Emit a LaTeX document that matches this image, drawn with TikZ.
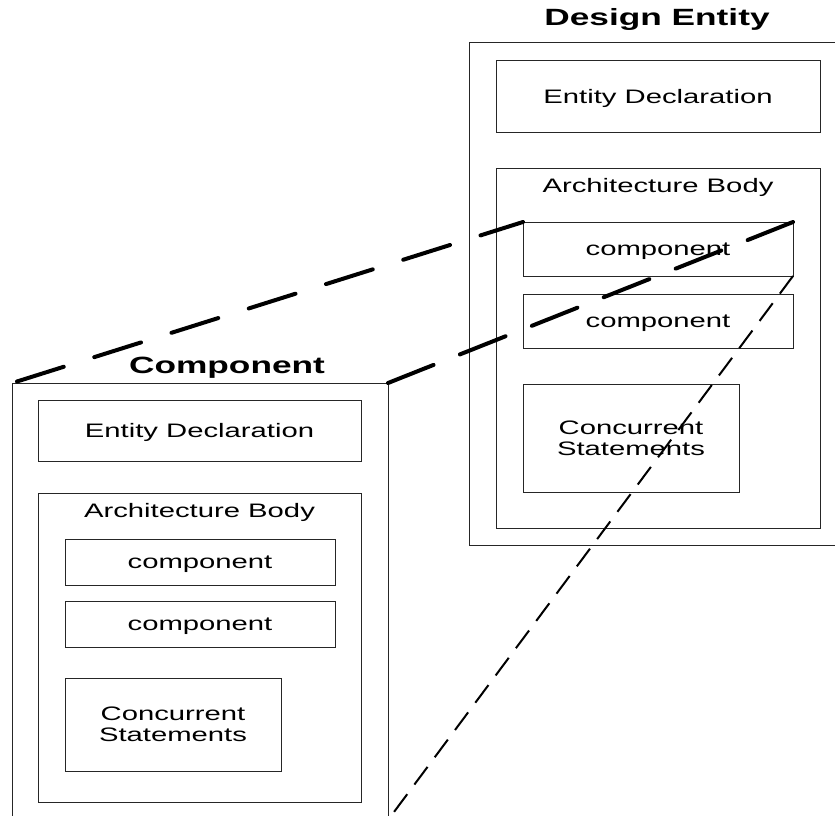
\documentclass[tikz,border=0pt]{standalone}
\usepackage{fontspec}
\setmainfont[FakeStretch=1.5]{Liberation Sans}
\usepackage{tikz}
\usetikzlibrary{positioning}
\tikzset{blk/.style={rectangle,draw=black!85,line width=0.9pt,inner sep=0pt,outer sep=0pt,anchor=north west,text depth=0pt,font=\fontsize{19.5}{21}\selectfont}}
\tikzset{lbl/.style={inner sep=0pt,anchor=north,font=\fontsize{19.5}{21}\selectfont}}
\tikzset{ttl/.style={inner sep=0pt,anchor=base,font=\fontsize{23.5}{26}\selectfont\bfseries}}
\tikzset{bigdash/.style={line width=4pt,line cap=round,dash pattern=on 49pt off #1}}
\tikzset{smalldash/.style={line width=2pt,dash pattern=on 22pt off 12pt}}

\begin{document}
\begin{tikzpicture}[x=1pt,y=-1pt]
\useasboundingbox (0,0) rectangle (835,816);
\clip (0,0) rectangle (835,816);

% design entity
\node[ttl] (DEtitle) at (657,26) {Design Entity};
\node[blk,minimum width=368pt,minimum height=503pt] (DE) at (469,42) {};
\node[blk,minimum width=324pt,minimum height=72pt] (DEent) at (496,60) {Entity Declaration};
\node[blk,minimum width=324pt,minimum height=360pt] (DEarch) at (496,168) {};
\node[lbl] (DEarchlbl) at ([yshift=-10pt]DEarch.north) {Architecture Body};
\foreach \i/\y in {1/222,2/294}
    \node[blk,minimum width=270pt,minimum height=54pt] (DEc\i) at (523,\y) {component};
\node[blk,minimum width=216pt,minimum height=108pt,align=center] (DEcs) at (523,384) {Concurrent\\Statements};

% component
\node[ttl] (Ctitle) at (227,373) {Component};
\node[blk,minimum width=376pt,minimum height=437pt] (C) at (12,383) {};
\node[blk,minimum width=323pt,minimum height=61pt] (Cent) at (38,400) {Entity Declaration};
\node[blk,minimum width=323pt,minimum height=309pt] (Carch) at (38,493) {};
\node[lbl] (Carchlbl) at ([yshift=-10pt]Carch.north) {Architecture Body};
\foreach \i/\y in {1/539,2/601}
    \node[blk,minimum width=270pt,minimum height=46pt] (Cc\i) at (65,\y) {component};
\node[blk,minimum width=216pt,minimum height=93pt,align=center] (Ccs) at (65,678) {Concurrent\\Statements};

% zoom lines
\draw[bigdash=32pt] ([shift={(5,-1.5)}]C.north west) -- (DEc1.north west);
\draw[bigdash=28.4pt] (C.north east) -- (DEc1.north east);
\draw[smalldash] (DEc1.south east) -- (C.south east);
\end{tikzpicture}
\end{document}
